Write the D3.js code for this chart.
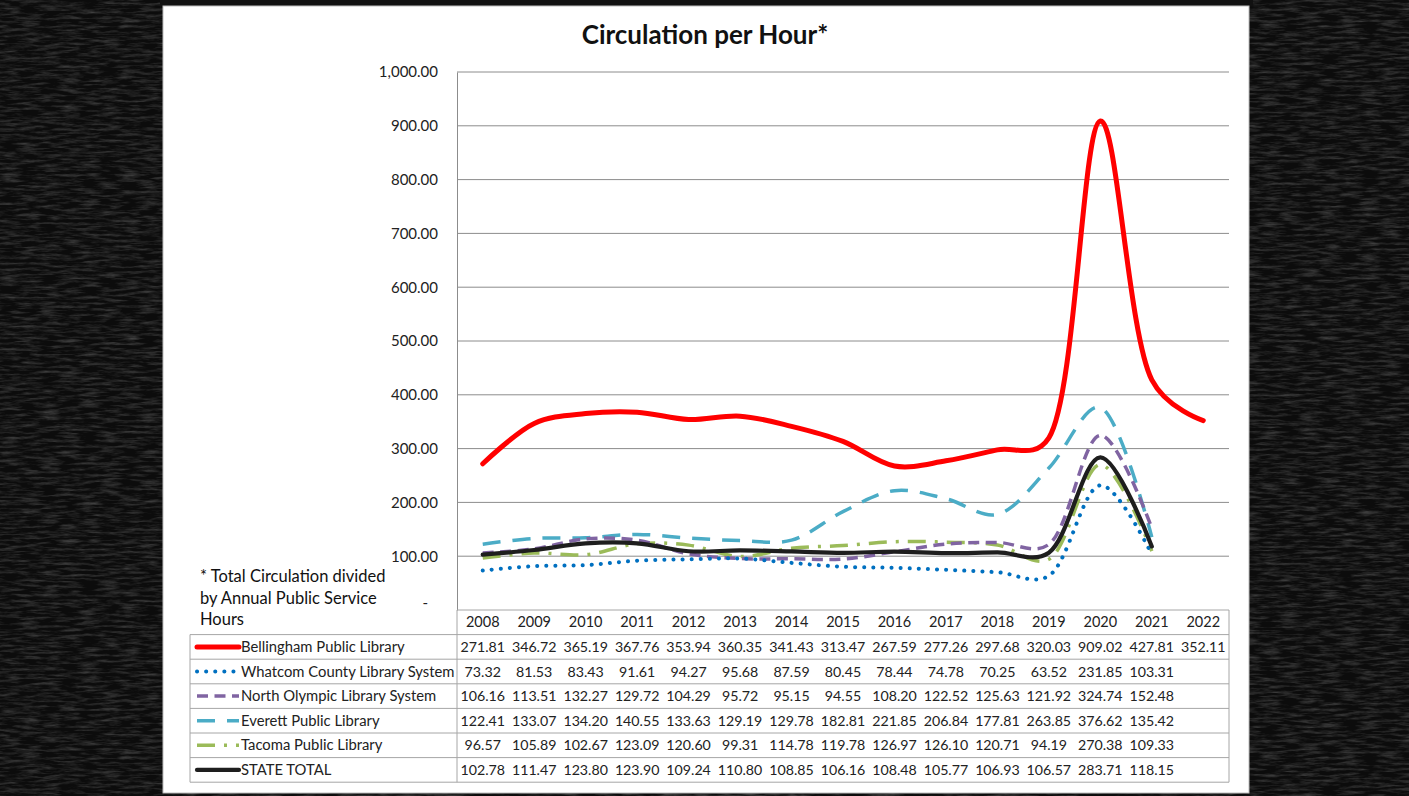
<!DOCTYPE html>
<html>
<head>
<meta charset="utf-8">
<script src="https://cdn.jsdelivr.net/npm/d3@7"></script>
<style>
  html, body { margin: 0; padding: 0; background: #0d0d0d; }
  svg { display: block; font-family: Lato, "Open Sans", sans-serif; }
</style>
</head>
<body>
<div id="chart"></div>
<script>
const years = [2008, 2009, 2010, 2011, 2012, 2013, 2014, 2015, 2016, 2017, 2018, 2019, 2020, 2021, 2022]
const bellingham = [271.81, 346.72, 365.19, 367.76, 353.94, 360.35, 341.43, 313.47, 267.59, 277.26, 297.68, 320.03, 909.02, 427.81, 352.11]
const whatcom = [73.32, 81.53, 83.43, 91.61, 94.27, 95.68, 87.59, 80.45, 78.44, 74.78, 70.25, 63.52, 231.85, 103.31, null]
const northOlympic = [106.16, 113.51, 132.27, 129.72, 104.29, 95.72, 95.15, 94.55, 108.20, 122.52, 125.63, 121.92, 324.74, 152.48, null]
const everett = [122.41, 133.07, 134.20, 140.55, 133.63, 129.19, 129.78, 182.81, 221.85, 206.84, 177.81, 263.85, 376.62, 135.42, null]
const tacoma = [96.57, 105.89, 102.67, 123.09, 120.60, 99.31, 114.78, 119.78, 126.97, 126.10, 120.71, 94.19, 270.38, 109.33, null]
const stateTotal = [102.78, 111.47, 123.80, 123.90, 109.24, 110.80, 108.85, 106.16, 108.48, 105.77, 106.93, 106.57, 283.71, 118.15, null]
const seriesNames = ['Bellingham Public Library', 'Whatcom County Library System', 'North Olympic Library System', 'Everett Public Library', 'Tacoma Public Library', 'STATE TOTAL']
const yTicks = [0, 100, 200, 300, 400, 500, 600, 700, 800, 900, 1000]

const width = 1409
const height = 796
const plotLeft = 457
const plotRight = 1229
const plotTop = 72
const plotBottom = 610
const rowH = 24.6

const styles = [
    { color: '#FF0000', w: 5, dash: null, cap: 'round' },
    { color: '#0070C0', w: 4, dash: '0.1 9', cap: 'round' },
    { color: '#8064A2', w: 3.5, dash: '11 6.5', cap: 'butt' },
    { color: '#4BACC6', w: 3.5, dash: '18 12', cap: 'butt' },
    { color: '#9BBB59', w: 3.5, dash: '18 9 3 9', cap: 'butt' },
    { color: '#1e1e1e', w: 4.2, dash: null, cap: 'round' }
]
const series = [bellingham, whatcom, northOlympic, everett, tacoma, stateTotal]

const svg = d3.select('#chart')
    .append('svg')
    .attr('width', width)
    .attr('height', height)

// Dark chalkboard background with fine grain
const defs = svg.append('defs')
const filt = defs.append('filter').attr('id', 'grain').attr('x', 0).attr('y', 0).attr('width', '100%').attr('height', '100%')
filt.append('feTurbulence').attr('type', 'fractalNoise').attr('baseFrequency', '0.05 0.35').attr('numOctaves', 4).attr('seed', 7)
filt.append('feColorMatrix').attr('type', 'matrix')
    .attr('values', '0 0 0 0 0.55  0 0 0 0 0.55  0 0 0 0 0.55  0 0 0 1.5 -0.6')
svg.append('rect').attr('width', width).attr('height', height).attr('fill', '#0c0c0c')
svg.append('rect').attr('width', width).attr('height', height).attr('filter', 'url(#grain)').attr('opacity', 0.35)

// Top border strip
svg.append('rect').attr('x', 160).attr('y', 0).attr('width', 1093).attr('height', 6).attr('fill', '#111')

// White panel
svg.append('rect')
    .attr('x', 163).attr('y', 6)
    .attr('width', 1086).attr('height', 787)
    .attr('fill', '#fff')
    .attr('stroke', '#bdbdbd')

// Title
svg.append('text')
    .attr('x', 705).attr('y', 44)
    .attr('text-anchor', 'middle')
    .attr('font-size', 26)
    .attr('font-weight', 'bold')
    .attr('fill', '#111')
    .text('Circulation per Hour*')

// Scales
const xBand = d3.scaleBand().domain(years).range([plotLeft, plotRight])
const xCenter = y => xBand(y) + xBand.bandwidth() / 2
const yScale = d3.scaleLinear().domain([0, 1000]).range([plotBottom, plotTop])

// Grid lines
svg.append('g')
    .selectAll('line')
    .data(yTicks.filter(t => t > 0))
    .enter()
    .append('line')
    .attr('x1', plotLeft).attr('x2', plotRight)
    .attr('y1', d => yScale(d)).attr('y2', d => yScale(d))
    .attr('stroke', '#8c8c8c')
    .attr('stroke-width', 1)

// Y axis
const yAxis = d3.axisLeft(yScale)
    .tickValues(yTicks)
    .tickSize(0)
    .tickPadding(19)
    .tickFormat(d => d === 0 ? '-' : d3.format(',.2f')(d))
const yG = svg.append('g')
    .attr('transform', `translate(${plotLeft}, 0)`)
    .call(yAxis)
yG.select('.domain').attr('stroke', '#8c8c8c')
yG.selectAll('text').attr('font-size', 15).attr('fill', '#222').attr('font-family', 'Lato, sans-serif')
yG.selectAll('.tick').filter(d => d === 0).select('text').attr('dx', -10).attr('dy', '-0.2em')

// Note text
const note = svg.append('text').attr('font-size', 16.5).attr('fill', '#111')
;['* Total Circulation divided', 'by Annual Public Service', 'Hours'].forEach((s, i) => {
    note.append('tspan').attr('x', 200).attr('y', 582 + i * 21.5).text(s)
})

// Lines
const line = d3.line()
    .defined(d => d.v !== null)
    .x(d => xCenter(d.year))
    .y(d => yScale(d.v))
    .curve(d3.curveCatmullRom.alpha(0.35))

const drawOrder = [4, 3, 2, 1, 5, 0]
drawOrder.forEach(i => {
    const pts = years.map((year, j) => ({ year, v: series[i][j] }))
    svg.append('path')
        .datum(pts)
        .attr('d', line)
        .attr('fill', 'none')
        .attr('stroke', styles[i].color)
        .attr('stroke-width', styles[i].w)
        .attr('stroke-dasharray', styles[i].dash)
        .attr('stroke-linecap', styles[i].cap)
        .attr('stroke-linejoin', 'round')
})

// Data table
const table = svg.append('g')
const tableTop = plotBottom
const legLeft = 190
const gridCol = '#a6a6a6'

// Header row
table.append('line').attr('x1', plotLeft).attr('x2', plotRight).attr('y1', tableTop).attr('y2', tableTop).attr('stroke', gridCol)
table.selectAll('.yr')
    .data(years)
    .enter()
    .append('text')
    .attr('x', d => xCenter(d))
    .attr('y', tableTop + 17)
    .attr('text-anchor', 'middle')
    .attr('font-size', 14.5)
    .attr('fill', '#222')
    .text(d => d)

// Row lines
for (let r = 0; r <= seriesNames.length; r++) {
    const y = tableTop + rowH * (r + 1)
    table.append('line').attr('x1', legLeft).attr('x2', plotRight).attr('y1', y).attr('y2', y).attr('stroke', gridCol)
}
// Vertical borders
const tableBottom = tableTop + rowH * (seriesNames.length + 1)
table.append('line').attr('x1', legLeft).attr('x2', legLeft).attr('y1', tableTop + rowH).attr('y2', tableBottom).attr('stroke', gridCol)
table.append('line').attr('x1', plotLeft).attr('x2', plotLeft).attr('y1', tableTop).attr('y2', tableBottom).attr('stroke', gridCol)
table.append('line').attr('x1', plotRight).attr('x2', plotRight).attr('y1', tableTop).attr('y2', tableBottom).attr('stroke', gridCol)

seriesNames.forEach((name, i) => {
    const cy = tableTop + rowH * (i + 1) + rowH / 2
    // legend key
    table.append('line')
        .attr('x1', 197).attr('x2', 239)
        .attr('y1', cy).attr('y2', cy)
        .attr('stroke', styles[i].color)
        .attr('stroke-width', styles[i].w)
        .attr('stroke-dasharray', styles[i].dash)
        .attr('stroke-linecap', styles[i].cap)
    table.append('text')
        .attr('x', 241).attr('y', cy + 5)
        .attr('font-size', 14.8)
        .attr('fill', '#222')
        .text(name)
    table.selectAll(null)
        .data(years.map((year, j) => ({ year, v: series[i][j] })).filter(d => d.v !== null))
        .enter()
        .append('text')
        .attr('x', d => xCenter(d.year))
        .attr('y', cy + 5)
        .attr('text-anchor', 'middle')
        .attr('font-size', 14.2)
        .attr('fill', '#222')
        .text(d => d3.format('.2f')(d.v))
})
</script>
</body>
</html>
